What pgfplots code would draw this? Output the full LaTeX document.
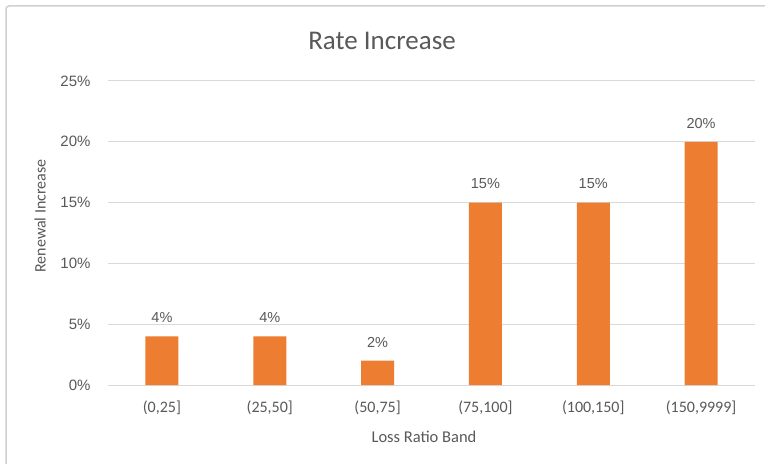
\documentclass[border=0pt]{standalone}
\usepackage{pgfplots}
\pgfplotsset{compat=1.18}
\usepackage{fontspec}
\setmainfont{Carlito}
\newfontfamily\helv{Liberation Sans}
\definecolor{barorange}{HTML}{ED7D31}
\definecolor{txtgray}{HTML}{595959}
\definecolor{gridgray}{HTML}{D9D9D9}
\definecolor{framegray}{HTML}{D0D0D0}
\begin{document}
\begin{tikzpicture}[x=1pt,y=1pt]
\useasboundingbox (0,0) rectangle (765,463);
\fill[white] (0,0) rectangle (765,463);
\draw[framegray, line width=1.5pt, rounded corners=3pt] (6,-10) -- (6,457) -- (780,457);
\begin{axis}[
  at={(108pt,78pt)}, anchor=south west,
  scale only axis, width=647pt, height=304pt,
  xmin=-0.5, xmax=5.5, ymin=0, ymax=25,
  axis line style={draw=none},
  major tick length=0pt,
  ytick={0,5,10,15,20,25},
  yticklabels={0\%,5\%,10\%,15\%,20\%,25\%},
  xtick={0,1,2,3,4,5},
  xticklabels={{(0,25]},{(25,50]},{(50,75]},{(75,100]},{(100,150]},{(150,9999]}},
  ymajorgrids, grid style={gridgray, line width=1pt},
  yticklabel style={font=\helv\fontsize{15}{15}\selectfont, text=txtgray, anchor=east, xshift=-14pt},
  xticklabel style={font=\fontsize{16}{16}\selectfont, text=txtgray, anchor=north, yshift=-12pt},
  ybar, bar width=33pt,
  /pgf/number format/assume math mode=true,
  nodes near coords={\pgfmathprintnumber{\pgfplotspointmeta}\%},
  every node near coord/.append style={font=\helv\fontsize{14.5}{14.5}\selectfont, text=txtgray, yshift=10pt},
  title={Rate Increase},
  title style={font=\fontsize{27}{27}\selectfont, text=txtgray, at={(axis description cs:0.4235,1.112)}, anchor=center},
  xlabel={Loss Ratio Band},
  xlabel style={font=\fontsize{16.5}{16.5}\selectfont, text=txtgray, at={(axis description cs:0.4884,-0.171)}, anchor=center},
  ylabel={Renewal Increase},
  ylabel style={font=\fontsize{16}{16}\selectfont, text=txtgray, at={(axis description cs:-0.105,0.556)}, anchor=center, rotate=0},
  clip=false,
]
\addplot[fill=barorange, draw=none] coordinates {(0,4) (1,4) (2,2) (3,15) (4,15) (5,20)};
\end{axis}
\end{tikzpicture}
\end{document}
